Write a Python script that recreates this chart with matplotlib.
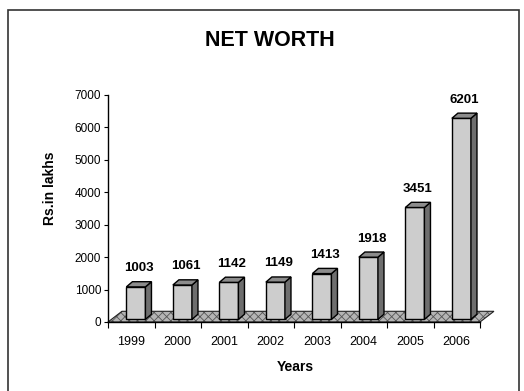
import matplotlib.pyplot as plt
from matplotlib.patches import Polygon, Rectangle

plt.rcParams["font.family"] = ["Liberation Sans", "DejaVu Sans"]
plt.rcParams["hatch.linewidth"] = 0.6

# donnees du graphique
years = ["1999", "2000", "2001", "2002", "2003", "2004", "2005", "2006"]
net_worth = [1003, 1061, 1142, 1149, 1413, 1918, 3451, 6201]
y_ticks = [0, 1000, 2000, 3000, 4000, 5000, 6000, 7000]

W, H = 524, 391
fig = plt.figure(figsize=(W / 100, H / 100), dpi=100)
ax = fig.add_axes([108 / W, 1 - 322 / H, 372 / W, 227 / H])
ax.set_xlim(-0.5, len(years) - 0.5)
ax.set_ylim(0, 7000)

# effet 3D (profondeur en unites de donnees)
bar_w = 0.41
shift = 0.10
bx, by = 0.13, 160
fx, fy = 0.30, 330
base = 80

# sol
n = len(years)
floor_pts = [(-0.5, 0), (n - 0.5, 0), (n - 0.5 + fx, fy), (-0.5 + fx, fy)]
ax.add_patch(Polygon(floor_pts, closed=True, facecolor="#b4b4b4", edgecolor="#555555",
                     lw=0, hatch="xxxx", clip_on=False, zorder=1))
ax.add_patch(Polygon(floor_pts, closed=True, fill=False, edgecolor="#222222",
                     lw=0.8, clip_on=False, zorder=1))

for i, v in enumerate(net_worth):
    x0 = i - bar_w / 2 + shift
    x1 = i + bar_w / 2 + shift
    top = base + v
    ax.bar(x0, v, width=bar_w, bottom=base, align="edge",
           color="#cdcdcd", edgecolor="black", lw=1.0, zorder=3)
    side = Polygon([(x1, base), (x1 + bx, base + by), (x1 + bx, top + by), (x1, top)],
                   closed=True, facecolor="#6e6e6e", edgecolor="black", lw=1.0,
                   clip_on=False, zorder=3)
    lid = Polygon([(x0, top), (x1, top), (x1 + bx, top + by), (x0 + bx, top + by)],
                  closed=True, facecolor="#8c8c8c", edgecolor="black", lw=1.0,
                  clip_on=False, zorder=3)
    ax.add_patch(side)
    ax.add_patch(lid)
    ax.text(i + shift + bx / 2, top + by + 230, str(v), ha="center", va="bottom",
            fontsize=9.5, fontweight="bold", clip_on=False)

# axes
for s in ["top", "right"]:
    ax.spines[s].set_visible(False)
ax.spines["left"].set_linewidth(1.0)
ax.spines["bottom"].set_linewidth(1.0)
ax.set_yticks(y_ticks)
ax.set_yticklabels([str(t) for t in y_ticks], fontsize=8.5)
ax.tick_params(axis="y", length=3, width=0.8, pad=2)
ax.set_xticks(range(n))
ax.set_xticklabels(years, fontsize=9)
ax.set_xticks([i + 0.5 for i in range(-1, n)], minor=True)
ax.tick_params(axis="x", which="major", length=0, pad=10)
ax.tick_params(axis="x", which="minor", length=4, width=0.8)

fig.text(270 / W, 1 - 40 / H, "NET WORTH", ha="center", va="center",
         fontsize=15.5, fontweight="bold")
fig.text(295 / W, 1 - 367 / H, "Years", ha="center", va="center",
         fontsize=10, fontweight="bold")
fig.text(50 / W, 1 - 188 / H, "Rs.in lakhs", ha="center", va="center",
         rotation=90, fontsize=10, fontweight="bold")

# cadre
fig.patches.append(Rectangle((8 / W, -0.02), 511 / W, 1.02 - 10 / H, transform=fig.transFigure,
                             fill=False, edgecolor="#333333", lw=1.2))

fig.savefig("out.png", dpi=100)
